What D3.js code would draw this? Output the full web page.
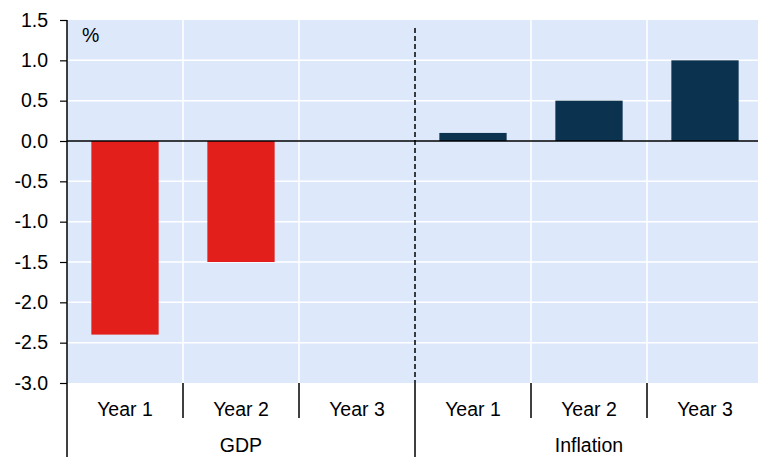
<!DOCTYPE html>
<html>
<head>
<meta charset="utf-8">
<script src="https://cdn.jsdelivr.net/npm/d3@7/dist/d3.min.js"></script>
<style>
  html, body { margin: 0; padding: 0; background: #fff; }
  svg { display: block; font-family: "Liberation Sans", Arial, sans-serif; }
</style>
</head>
<body>
<svg id="chart" width="758" height="457"></svg>
<script>
// Projected impact, percentage points
const groups = ["GDP", "Inflation"];
const years = ["Year 1", "Year 2", "Year 3"];
const gdpValues = [-2.4, -1.5, 0.0];
const inflationValues = [0.1, 0.5, 1.0];
const yTicks = [1.5, 1.0, 0.5, 0.0, -0.5, -1.0, -1.5, -2.0, -2.5, -3.0];

const colors = { GDP: "#e31f1c", Inflation: "#0b3350" };
const fontSize = 19.5;

const rows = [];
groups.forEach((g, gi) => {
  const vals = gi === 0 ? gdpValues : inflationValues;
  years.forEach((yr, i) => rows.push({ key: g + "|" + yr, group: g, year: yr, value: vals[i] }));
});

const svg = d3.select("#chart");
const margin = { left: 67, top: 20, right: 763, bottom: 383 };

const x = d3.scaleBand()
  .domain(rows.map(d => d.key))
  .range([margin.left, margin.right])
  .paddingInner(0).paddingOuter(0);

const y = d3.scaleLinear().domain([-3, 1.5]).range([margin.bottom, margin.top]);

// Plot background
svg.append("rect")
  .attr("x", margin.left).attr("y", margin.top)
  .attr("width", margin.right - margin.left).attr("height", margin.bottom - margin.top)
  .attr("fill", "#dde9fb");

// Horizontal gridlines
svg.append("g").selectAll("line").data(yTicks.filter(t => t !== 0 && t !== -3 && t !== 1.5)).join("line")
  .attr("x1", margin.left).attr("x2", margin.right)
  .attr("y1", d => y(d)).attr("y2", d => y(d))
  .attr("stroke", "#fff").attr("stroke-width", 1.5);

// Vertical gridlines between categories
const bounds = rows.slice(1).map(d => x(d.key));
svg.append("g").selectAll("line").data(bounds.filter((b, i) => i !== 2)).join("line")
  .attr("x1", d => d).attr("x2", d => d)
  .attr("y1", margin.top).attr("y2", margin.bottom)
  .attr("stroke", "#fff").attr("stroke-width", 1.5);

// Bars
const barW = x.bandwidth() * 0.58;
svg.append("g").selectAll("rect").data(rows).join("rect")
  .attr("x", d => x(d.key) + (x.bandwidth() - barW) / 2)
  .attr("width", barW)
  .attr("y", d => y(Math.max(0, d.value)))
  .attr("height", d => Math.abs(y(d.value) - y(0)))
  .attr("fill", d => colors[d.group]);

// Zero line
svg.append("line")
  .attr("x1", margin.left).attr("x2", margin.right)
  .attr("y1", y(0)).attr("y2", y(0))
  .attr("stroke", "#000").attr("stroke-width", 1.5);

// Dashed divider between GDP and Inflation
const divX = x(groups[1] + "|" + years[0]);
svg.append("line")
  .attr("x1", divX).attr("x2", divX)
  .attr("y1", margin.top + 8).attr("y2", margin.bottom)
  .attr("stroke", "#000").attr("stroke-width", 1.5)
  .attr("stroke-dasharray", "5,3");

// Left axis
const yAxis = d3.axisLeft(y).tickValues(yTicks).tickSize(7).tickPadding(12);
const ga = svg.append("g").attr("transform", `translate(${margin.left},0)`).call(yAxis);
ga.select(".domain").remove();
ga.selectAll(".tick line").attr("stroke", "#000").attr("stroke-width", 1.2);
ga.selectAll(".tick text").attr("font-size", fontSize).attr("fill", "#000")
  .attr("font-family", "Liberation Sans, Arial, sans-serif")
  .text(d => d3.format(".1f")(d).replace("−", "-"));

// Left axis line, extending down through the category labels
svg.append("line")
  .attr("x1", margin.left).attr("x2", margin.left)
  .attr("y1", margin.top).attr("y2", 457)
  .attr("stroke", "#000").attr("stroke-width", 1.5);

// Category separators below the plot
svg.append("g").selectAll("line").data(bounds).join("line")
  .attr("x1", d => d).attr("x2", d => d)
  .attr("y1", margin.bottom).attr("y2", (d, i) => i === 2 ? 457 : 418)
  .attr("stroke", "#000").attr("stroke-width", 1.5);

// Year labels
svg.append("g").selectAll("text").data(rows).join("text")
  .attr("x", d => x(d.key) + x.bandwidth() / 2)
  .attr("y", 416)
  .attr("text-anchor", "middle")
  .attr("font-size", fontSize)
  .text(d => d.year);

// Group labels
groups.forEach(g => {
  const first = x(g + "|" + years[0]);
  const last = x(g + "|" + years[years.length - 1]) + x.bandwidth();
  svg.append("text")
    .attr("x", (first + Math.min(last, 763)) / 2)
    .attr("y", 452)
    .attr("text-anchor", "middle")
    .attr("font-size", fontSize)
    .text(g);
});

// Unit label
svg.append("text")
  .attr("x", 82).attr("y", 42)
  .attr("font-size", fontSize)
  .text("%");
</script>
</body>
</html>
